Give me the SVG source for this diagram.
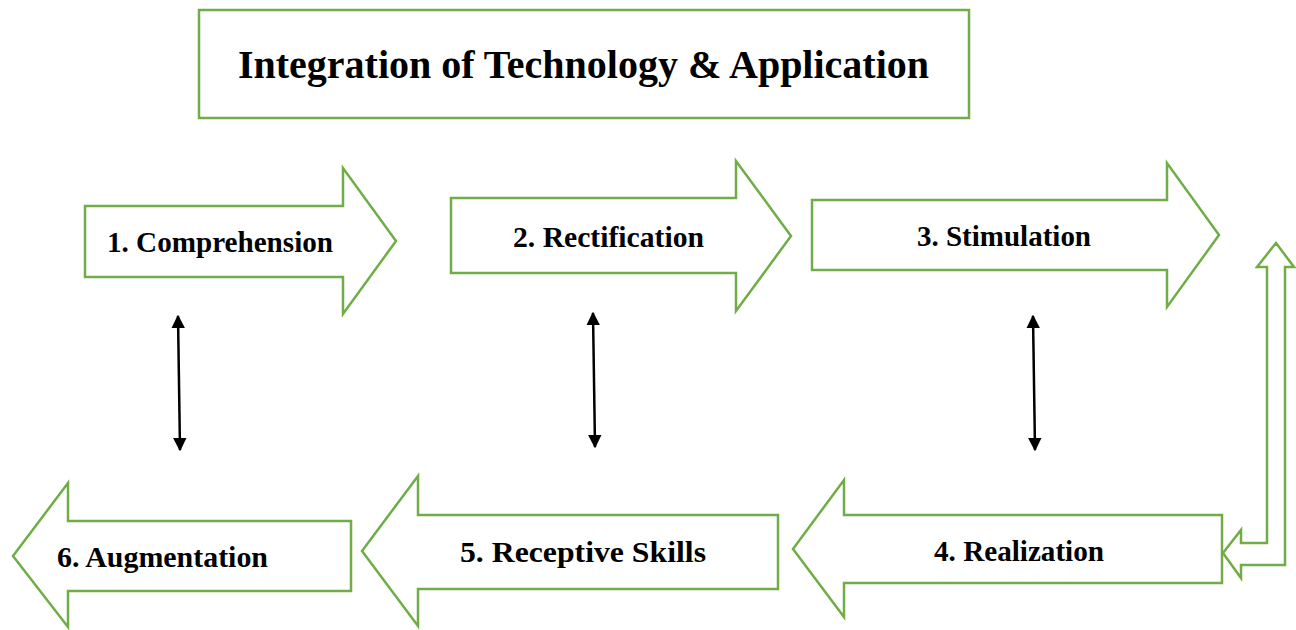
<svg xmlns="http://www.w3.org/2000/svg" width="1296" height="630" viewBox="0 0 1296 630">
<style>
.shape{fill:#ffffff;stroke:#70AD47;stroke-width:2.5;stroke-linejoin:miter}
.lbl{font-family:"Liberation Serif","Times New Roman",serif;font-weight:bold;font-size:30px;fill:#000}
.title{font-family:"Liberation Serif","Times New Roman",serif;font-weight:bold;font-size:40px;fill:#000}
.conn{stroke:#000;stroke-width:2.5;fill:none}
</style>
<defs>
<marker id="ah" viewBox="0 0 10 10" refX="9" refY="5" markerWidth="5.5" markerHeight="5.5" orient="auto-start-reverse" markerUnits="strokeWidth">
<path d="M0,0 L10,5 L0,10 z" fill="#000"/>
</marker>
</defs>
<rect width="1296" height="630" fill="#fff"/>
<g id="title">
<rect class="shape" x="199" y="10" width="770" height="108"/>
<text class="title" x="238" y="78" textLength="691" lengthAdjust="spacingAndGlyphs">Integration of Technology &amp; Application</text>
</g>
<g id="node1">
<polygon class="shape" points="85,206 343,206 343,168 396,241 343,314 343,277 85,277"/>
<text class="lbl" x="107" y="252" textLength="226" lengthAdjust="spacingAndGlyphs">1. Comprehension</text>
</g>
<g id="node2">
<polygon class="shape" points="451,198 736,198 736,161 791,236 736,311 736,273 451,273"/>
<text class="lbl" x="513" y="247" textLength="191" lengthAdjust="spacingAndGlyphs">2. Rectification</text>
</g>
<g id="node3">
<polygon class="shape" points="812,200 1167,200 1167,163 1219,235 1167,307 1167,270 812,270"/>
<text class="lbl" x="917" y="246" textLength="174" lengthAdjust="spacingAndGlyphs">3. Stimulation</text>
</g>
<g id="node4">
<polygon class="shape" points="1222,515 844,515 844,480 793,549 844,617 844,583 1222,583"/>
<text class="lbl" x="934" y="561" textLength="170" lengthAdjust="spacingAndGlyphs">4. Realization</text>
</g>
<g id="node5">
<polygon class="shape" points="778,515 418,515 418,476 362,551 418,626 418,589 778,589"/>
<text class="lbl" x="460" y="562" textLength="246" lengthAdjust="spacingAndGlyphs">5. Receptive Skills</text>
</g>
<g id="node6">
<polygon class="shape" points="351,521 68,521 68,483 13,556 68,627 68,591 351,591"/>
<text class="lbl" x="57" y="567" textLength="211" lengthAdjust="spacingAndGlyphs">6. Augmentation</text>
</g>
<g id="connectors">
<polygon class="shape" points="1276,243 1294,267 1285,267 1285,565 1241,565 1241,578 1223,553 1241,530 1241,543 1267,543 1267,267 1257,267"/>
<line class="conn" x1="178" y1="316" x2="180" y2="450" marker-start="url(#ah)" marker-end="url(#ah)"/>
<line class="conn" x1="593" y1="313" x2="595" y2="447" marker-start="url(#ah)" marker-end="url(#ah)"/>
<line class="conn" x1="1033" y1="316" x2="1035" y2="450" marker-start="url(#ah)" marker-end="url(#ah)"/>
</g>
</svg>
